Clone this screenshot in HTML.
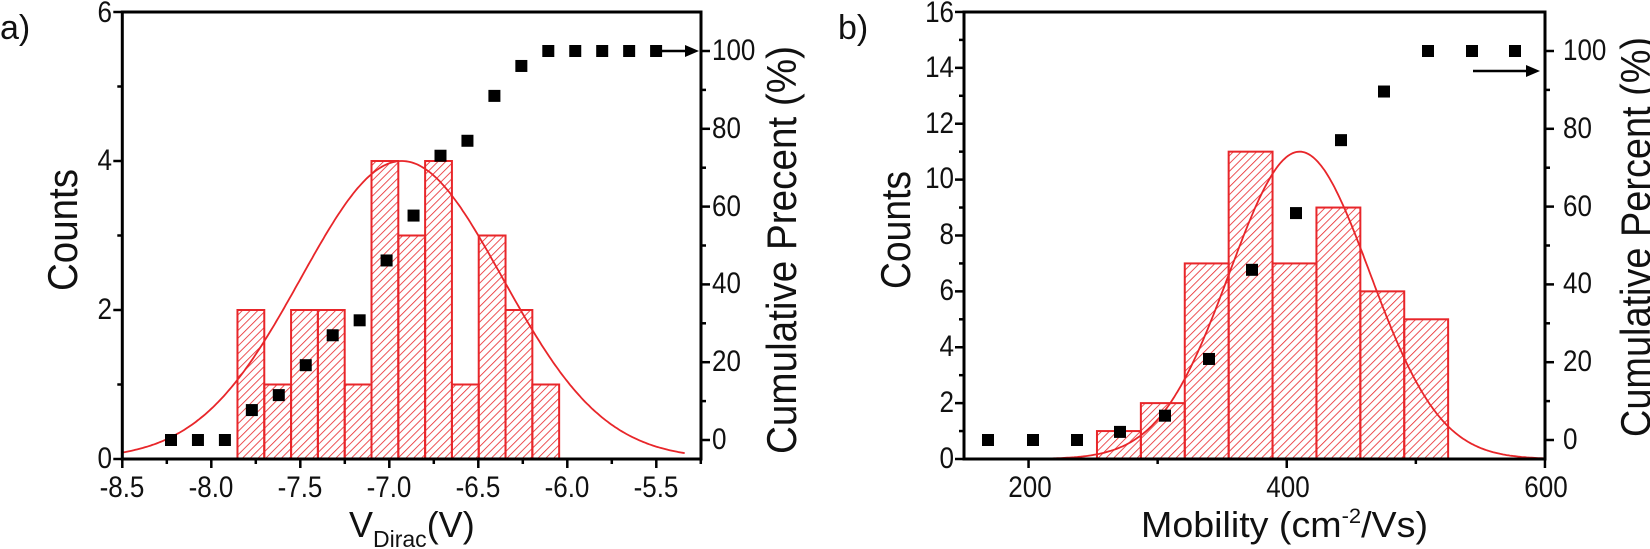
<!DOCTYPE html>
<html><head><meta charset="utf-8"><style>
html,body{margin:0;padding:0;background:#fff;}
svg{display:block;}
text{font-family:"Liberation Sans",Arial,sans-serif;fill:#111;}
</style></head><body>
<svg id="s" width="1650" height="549" viewBox="0 0 1650 549" xmlns="http://www.w3.org/2000/svg">
<defs>
<pattern id="h" patternUnits="userSpaceOnUse" width="5.5" height="5.5" patternTransform="rotate(45)">
<line x1="0" y1="0" x2="0" y2="5.5" stroke="#e8262a" stroke-width="1.6"/>
</pattern>
</defs>
<g id="g"></g>
<text x="0" y="39" font-size="34">a)</text>
<g class="tk" font-size="26" text-anchor="end">
<text x="112" y="468">0</text><text x="112" y="319">2</text><text x="112" y="170">4</text><text x="112" y="22">6</text>
</g>
<g class="tk" font-size="26" text-anchor="middle">
<text x="122" y="497">-8.5</text><text x="211" y="497">-8.0</text><text x="300" y="497">-7.5</text><text x="389" y="497">-7.0</text><text x="478" y="497">-6.5</text><text x="567" y="497">-6.0</text><text x="656" y="497">-5.5</text>
</g>
<g class="tk" font-size="26">
<text x="712" y="449">0</text><text x="712" y="371">20</text><text x="712" y="293">40</text><text x="712" y="216">60</text><text x="712" y="138">80</text><text x="712" y="60">100</text>
</g>
<text transform="translate(77,230) rotate(-90)" font-size="42" text-anchor="middle" textLength="122" lengthAdjust="spacingAndGlyphs">Counts</text>
<text transform="translate(796,250) rotate(-90)" font-size="42" text-anchor="middle" textLength="408" lengthAdjust="spacingAndGlyphs">Cumulative Precent (%)</text>
<text x="349" y="537" font-size="36">V<tspan font-size="23" dy="10">Dirac</tspan><tspan dy="-10">(V)</tspan></text>
<text x="838" y="39" font-size="34">b)</text>
<g class="tk" font-size="26" text-anchor="end">
<text x="954" y="468">0</text><text x="954" y="412">2</text><text x="954" y="356">4</text><text x="954" y="300">6</text><text x="954" y="244">8</text><text x="954" y="188">10</text><text x="954" y="133">12</text><text x="954" y="77">14</text><text x="954" y="22">16</text>
</g>
<g class="tk" font-size="26" text-anchor="middle">
<text x="1030" y="497">200</text><text x="1288" y="497">400</text><text x="1546" y="497">600</text>
</g>
<g class="tk" font-size="26">
<text x="1563" y="449">0</text><text x="1563" y="371">20</text><text x="1563" y="293">40</text><text x="1563" y="216">60</text><text x="1563" y="138">80</text><text x="1563" y="60">100</text>
</g>
<text transform="translate(910,230) rotate(-90)" font-size="42" text-anchor="middle" textLength="118" lengthAdjust="spacingAndGlyphs">Counts</text>
<text transform="translate(1650,237) rotate(-90)" font-size="42" text-anchor="middle" textLength="400" lengthAdjust="spacingAndGlyphs">Cumulative Percent (%)</text>
<text x="1141" y="537" font-size="36" textLength="287" lengthAdjust="spacingAndGlyphs">Mobility (cm<tspan font-size="21" dy="-14">-2</tspan><tspan dy="14">/Vs)</tspan></text>
</svg>
<script>
(function(){
var g=document.getElementById('g'),NS='http://www.w3.org/2000/svg',R='#e8262a';
function el(t,a){var e=document.createElementNS(NS,t);for(var k in a)e.setAttribute(k,a[k]);g.appendChild(e);return e;}
function P(p){return 440-3.89*p;}
function plot(o){
 for(var i=0;i<o.h.length;i++){var x0=o.X(o.e0+i*o.bw),x1=o.X(o.e0+(i+1)*o.bw),y=o.Y(o.h[i]);
  el('rect',{x:x0,y:y,width:x1-x0,height:459-y,fill:'url(#h)',stroke:R,'stroke-width':2});}
 var d='';for(var v=o.g0;v<=o.g1;v+=(o.g1-o.g0)/300){var y=o.Y(o.A*Math.exp(-Math.pow(v-o.mu,2)/(2*o.sg*o.sg)));d+=(d?'L':'M')+o.X(v).toFixed(1)+','+y.toFixed(1);}
 el('path',{d:d,fill:'none',stroke:R,'stroke-width':1.8});
 for(var i=0;i<o.px.length;i++){el('rect',{x:o.px[i]-6,y:P(o.pv[i])-6,width:12,height:12,fill:'#000'});}
 el('line',{x1:o.ar[0],y1:o.ar[2],x2:o.ar[1]-8,y2:o.ar[2],stroke:'#000','stroke-width':2.5});
 el('path',{d:'M'+o.ar[1]+','+o.ar[2]+' l-14,-6 l0,12 z',fill:'#000'});
 el('rect',{x:o.L,y:12,width:o.Rr-o.L,height:447,fill:'none',stroke:'#000','stroke-width':3});
 o.xt.forEach(function(t){var x=o.X(t[0]);el('line',{x1:x,y1:459,x2:x,y2:459+(t[1]?9:5),stroke:'#000','stroke-width':2.5});});
 o.yt.forEach(function(t){var y=o.Y(t[0]);el('line',{x1:o.L,y1:y,x2:o.L-(t[1]?9:5),y2:y,stroke:'#000','stroke-width':2.5});});
 for(var p=0;p<=100;p+=10){var y=P(p);el('line',{x1:o.Rr,y1:y,x2:o.Rr+(p%20==0?9:5),y2:y,stroke:'#000','stroke-width':2.5});}
}
var XL=function(v){return 122.3+(v+8.5)*178;},YL=function(c){return 459-c*74.5;};
var cl=[0,0,0,2,3,5,7,8,12,15,19,20,23,25,26,26,26,26,26],pxl=[],pvl=[];
for(var k=0;k<19;k++){pxl.push(171+26.95*k);pvl.push(cl[k]/26*100);}
var xtl=[];for(var v=-8.5;v<=-5.2;v+=0.25)xtl.push([v,Math.abs((v*2)-Math.round(v*2))<0.01]);
var ytl=[];for(var c=0;c<=6;c++)ytl.push([c,c%2==0]);
plot({X:XL,Y:YL,e0:-7.853,bw:0.1506,h:[2,1,2,2,1,4,3,4,1,3,2,1],g0:-8.5,g1:-5.33,A:4.0,mu:-6.93,sg:0.567,
 px:pxl,pv:pvl,ar:[661,699,P(100)],L:122.3,Rr:701,xt:xtl,yt:ytl});
var XR=function(m){return 964+(m-150)*1.291;},YR=function(c){return 459-c*27.94;};
var cr=[0,0,0,1,3,10,21,28,37,43,48,48,48],pxr=[988,1033,1077,1120,1165,1209,1252,1296,1341,1384,1428,1472,1515],pvr=cr.map(function(c){return c/48*100;});
var xtr=[[200,1],[300,0],[400,1],[500,0],[600,1]];
var ytr=[];for(var c=0;c<=16;c++)ytr.push([c,c%2==0]);
plot({X:XR,Y:YR,e0:253,bw:34,h:[1,2,7,11,7,9,6,5],g0:212,g1:600,A:11,mu:410,sg:54.3,
 px:pxr,pv:pvr,ar:[1473,1540,71],L:964,Rr:1545,xt:xtr,yt:ytr});
// condense tick labels: taller font, same width
var ts=document.querySelectorAll('.tk text');
for(var i=0;i<ts.length;i++){var t=ts[i];var w=t.getComputedTextLength();t.setAttribute('font-size','30');t.setAttribute('textLength',w.toFixed(1));t.setAttribute('lengthAdjust','spacingAndGlyphs');}
})();
</script>
</body></html>
